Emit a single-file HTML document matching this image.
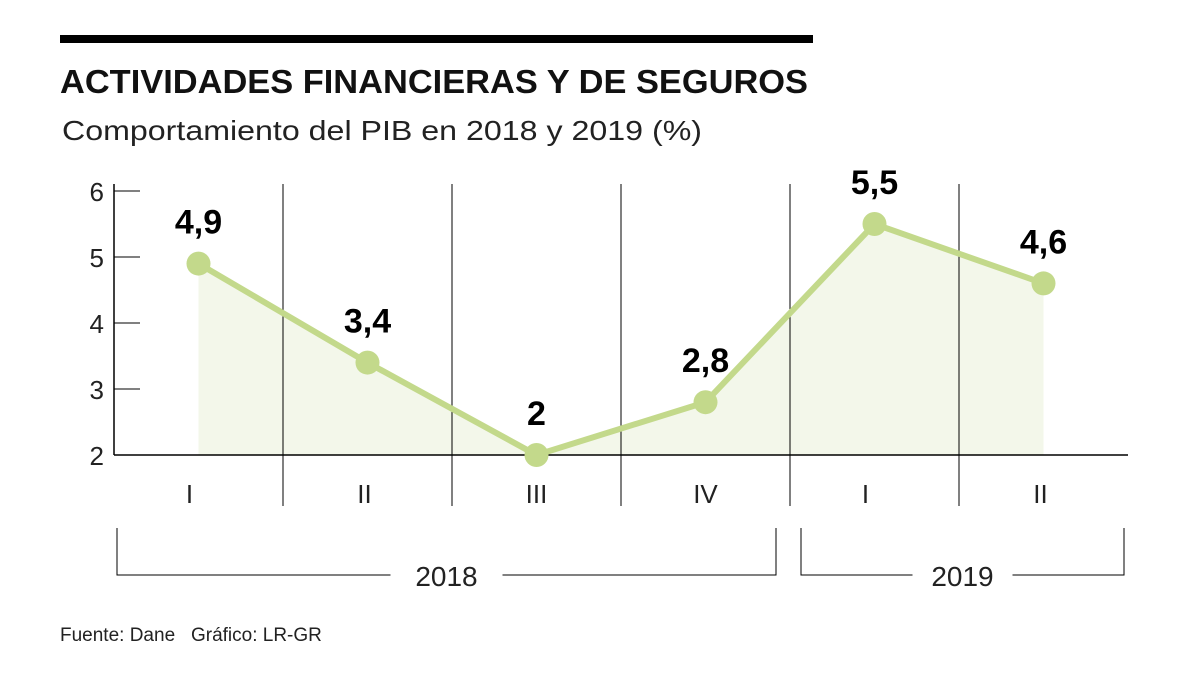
<!DOCTYPE html>
<html><head><meta charset="utf-8"><style>
body{margin:0;background:#fff;width:1200px;height:675px;overflow:hidden;font-family:"Liberation Sans",sans-serif}
</style></head><body>
<svg width="1200" height="675" xmlns="http://www.w3.org/2000/svg">
<rect x="60" y="35" width="753" height="8" fill="#000"/>
<text x="60" y="93" font-size="33" font-weight="bold" fill="#111" textLength="748" lengthAdjust="spacingAndGlyphs">ACTIVIDADES FINANCIERAS Y DE SEGUROS</text>
<text x="62" y="140" font-size="28" fill="#222" textLength="640" lengthAdjust="spacingAndGlyphs">Comportamiento del PIB en 2018 y 2019 (%)</text>
<g id="plot"></g>
<text x="60" y="641" font-size="19" fill="#222" xml:space="preserve" style="white-space:pre">Fuente: Dane   Gráfico: LR-GR</text>
</svg>
<script>
const categories=["I","II","III","IV","I","II"];
const values=[4.9,3.4,2,2.8,5.5,4.6];
const labels=["4,9","3,4","2","2,8","5,5","4,6"];
const yTicks=[2,3,4,5,6];
const years=["2018","2019"];
const yearSpans=[[0,3],[4,5]];
const NS="http://www.w3.org/2000/svg";
const g=document.getElementById('plot');
const x0=114,cw=169,yb=455,pu=66;
const X=i=>x0+cw*(i+0.5);
const Y=v=>yb-(v-2)*pu;
function mk(t,a,txt){const e=document.createElementNS(NS,t);for(const k in a)e.setAttribute(k,a[k]);if(txt!=null)e.textContent=txt;g.appendChild(e);return e;}
let d=`M${X(0)},${Y(2)}`;values.forEach((v,i)=>d+=` L${X(i)},${Y(v)}`);d+=` L${X(values.length-1)},${Y(2)}Z`;
let e=mk('path',{d:d,fill:'#f3f7ea'});


for(let i=1;i<categories.length;i++){e=mk('line',{x1:x0+cw*i,x2:x0+cw*i,y1:184,y2:506,stroke:'#000','stroke-width':1});

}
e=mk('line',{x1:x0,x2:x0,y1:184,y2:Y(2),stroke:'#000','stroke-width':1.5});


e=mk('line',{x1:x0,x2:x0+cw*6,y1:Y(2),y2:Y(2),stroke:'#000','stroke-width':1.5});


yTicks.forEach(t=>{
 if(t>2){e=mk('line',{x1:x0,x2:x0+26,y1:Y(t),y2:Y(t),stroke:'#000','stroke-width':1});
 
 }
 e=mk('text',{x:104,y:Y(t)+10,'font-size':26,'text-anchor':'end',fill:'#222'},String(t));
 
 
});
e=mk('polyline',{points:values.map((v,i)=>X(i)+','+Y(v)).join(' '),fill:'none',stroke:'#c3d98b','stroke-width':6});


values.forEach((v,i)=>{
 e=mk('circle',{cx:X(i),cy:Y(v),r:12,fill:'#c3d98b'});
 
 
 e=mk('text',{x:X(i),y:Y(v)-30,'font-size':34,'font-weight':'bold','text-anchor':'middle',fill:'#000'},labels[i]);
 
 
 e=mk('text',{x:X(i)-(i==0||i==4?9:i==1||i==5?3:0),y:503,'font-size':26,'text-anchor':'middle',fill:'#222'},categories[i]);
 
 
});
years.forEach((yr,k)=>{
 const a=x0+cw*yearSpans[k][0]+(k==0?3:11),b=x0+cw*(yearSpans[k][1]+1)-(k==0?14:4),m=(a+b)/2,hw=k==0?56:50;
 e=mk('path',{d:`M${a},528 V575 H${m-hw} M${m+hw},575 H${b} V528`,fill:'none',stroke:'#000','stroke-width':1});
 
 
 e=mk('text',{x:m,y:586,'font-size':28,'text-anchor':'middle',fill:'#222'},yr);
 
 
});
</script>
</body></html>
